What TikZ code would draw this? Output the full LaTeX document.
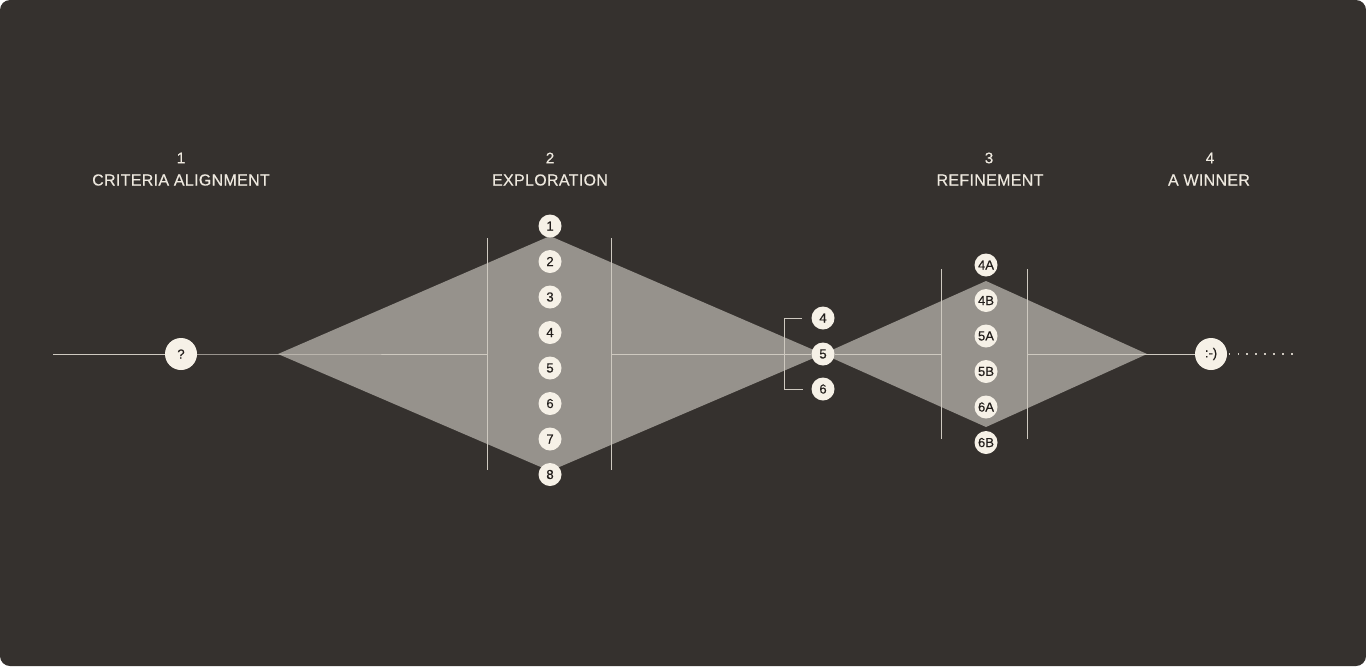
\documentclass[tikz,border=0pt]{standalone}
\usepackage{fontspec}
\setmainfont{Liberation Sans}
\definecolor{bg}{HTML}{35312E}
\definecolor{dia}{HTML}{96928C}
\definecolor{linec}{HTML}{CEC9C0}
\definecolor{cream}{HTML}{F6F1E7}
\definecolor{ink}{HTML}{221E1B}
\definecolor{titlec}{HTML}{EEE9DF}
\begin{document}
\begin{tikzpicture}[x=0.75pt,y=-0.75pt,
  small/.style={circle, fill=cream, minimum size=17.25pt, inner sep=0pt, text=ink, font=\fontsize{9.8}{10}\selectfont\addfontfeatures{FakeBold=0.35}},
  big/.style={circle, fill=cream, minimum size=24pt, inner sep=0pt, text=ink, font=\fontsize{9.8}{10}\selectfont\addfontfeatures{FakeBold=0.35}},
  numlab/.style={text=titlec, inner sep=0pt, font=\fontsize{11.5}{13}\selectfont\addfontfeatures{FakeBold=0.35}},
  namelab/.style={text=titlec, inner sep=0pt, font=\fontsize{12}{14}\selectfont\addfontfeatures{LetterSpace=2,FakeBold=0.35}},
  ln/.style={draw=linec, line width=0.75pt},
  vln/.style={draw=linec, line width=0.75pt}]
\fill[white] (0,0) rectangle (1366,668);
\useasboundingbox (0,0) rectangle (1366,668);
\fill[bg, rounded corners=7.5pt] (0,0) rectangle (1366,666);

% diamond corners
\coordinate (d1L) at (278,354);
\coordinate (d1T) at (550,236);
\coordinate (d1R) at (823,354);
\coordinate (d1B) at (550,471);
\coordinate (d2T) at (986,281);
\coordinate (d2R) at (1147,354);
\coordinate (d2B) at (986,427);
\fill[dia] (d1L) -- (d1T) -- (d1R) -- (d1B) -- cycle;
\fill[dia] (d1R) -- (d2T) -- (d2R) -- (d2B) -- cycle;

% vertical bars
\coordinate (v1at) at (487,238); \coordinate (v1ab) at (487,470);
\coordinate (v1bt) at (611,238); \coordinate (v1bb) at (611,470);
\coordinate (v2at) at (941,269); \coordinate (v2ab) at (941,439);
\coordinate (v2bt) at (1027,269); \coordinate (v2bb) at (1027,439);
\draw[vln] (v1at) -- (v1ab);
\draw[vln] (v1bt) -- (v1bb);
\draw[vln] (v2at) -- (v2ab);
\draw[vln] (v2bt) -- (v2bb);

% axis points
\coordinate (start) at (53,354);
\coordinate (v1a) at (487,354);
\coordinate (v1b) at (611,354);
\coordinate (v2a) at (941,354);
\coordinate (v2b) at (1027,354);
\coordinate (end) at (1295,354);

% nodes
\node[big] (q) at (181,354) {?};
\node[big] (win) at (1211,354) {:-)};
\foreach \t [count=\i from 0] in {1,...,8} {
  \node[small] (e\t) at (550,226+35.5*\i) {\t};
}
\node[small] (r4) at (823,318) {4};
\node[small] (r5) at (823,354) {5};
\node[small] (r6) at (823,389) {6};
\foreach \t [count=\i from 0] in {4A,4B,5A,5B,6A,6B} {
  \node[small] (f\t) at (986,265+35.5*\i) {\t};
}

% horizontal connectors
\draw[ln] (start) -- (q);
\draw[ln] (q) -- (d1L) -- (v1a);
\draw[ln] (v1b) -- (r5);
\draw[ln] (r5) -- (v2a);
\draw[ln] (v2b) -- (win);
\draw[linec, line width=1.1pt, dash pattern=on 1.1pt off 5.6pt, dash phase=-1pt] (win) -- (end);

% bracket
\coordinate (bt) at (784,318);
\coordinate (bb) at (784,389);
\draw[ln] (r4.west) ++(-9,0) -| (bt) -- (bb) -- ++(19,0);

% titles
\node[numlab] (t1n) at (181,158) {1};
\node[namelab] (t1) at (181,180) {CRITERIA ALIGNMENT};
\node[numlab] (t2n) at (550,158) {2};
\node[namelab] (t2) at (550,180) {EXPLORATION};
\node[numlab] (t3n) at (989,158) {3};
\node[namelab] (t3) at (990,180) {REFINEMENT};
\node[numlab] (t4n) at (1210,158) {4};
\node[namelab] (t4) at (1209,180) {A WINNER};
\end{tikzpicture}
\end{document}
